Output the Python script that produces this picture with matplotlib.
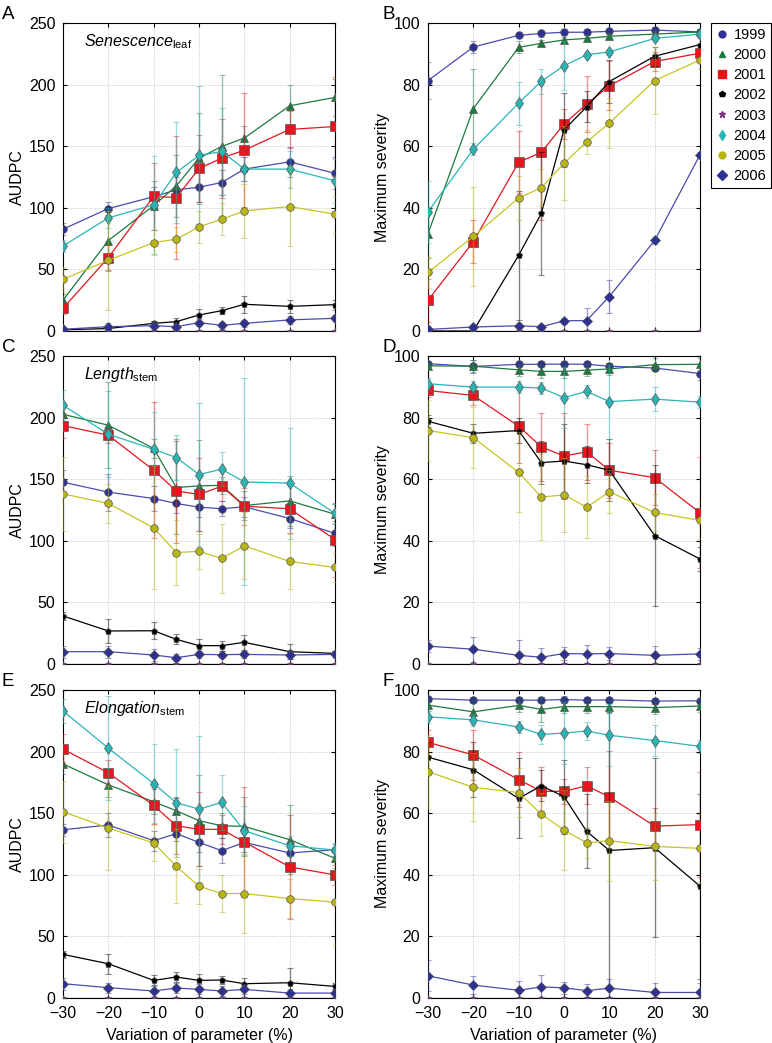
import numpy as np
import matplotlib
matplotlib.use("Agg")
import matplotlib.pyplot as plt
from matplotlib.lines import Line2D

plt.rcParams['font.family'] = ['Liberation Sans', 'DejaVu Sans']
plt.rcParams['mathtext.fontset'] = 'custom'
plt.rcParams['mathtext.rm'] = 'Liberation Sans'
plt.rcParams['mathtext.it'] = 'Liberation Sans:italic'

# variation of parameter (%)
variation = [-30, -20, -10, -5, 0, 5, 10, 20, 30]
years = ['1999', '2000', '2001', '2002', '2003', '2004', '2005', '2006']

# A: AUDPC, Senescence_leaf (rows = years)
audpc_leaf = [
    [82.6, 99.4, 109, 114.6, 116.7, 120.5, 131.4, 137.3, 128],
    [25, 73.4, 101.8, 117.8, 140.3, 149.8, 156.6, 182.8, 189.6],
    [18.4, 59.6, 109.2, 108.3, 131.9, 140.3, 146.8, 163.6, 166],
    [1, 2, 6.2, 7.6, 13, 16.5, 21.7, 20, 21.4],
    [0, 0, 0, 0, 0, 0, 0, 0, 0],
    [69, 91.8, 102.4, 128.7, 142.5, 145.7, 131.4, 131.4, 121.9],
    [42, 57.4, 71.8, 74.5, 84.5, 90.7, 97.5, 101, 94.8],
    [1.4, 3.5, 4.3, 3.5, 6.8, 4.6, 6.2, 9, 10.3],
]
audpc_leaf_err = [
    [5, 5, 8, 10, 12, 10, 10, 12, 13],
    [5, 25, 20, 25, 37, 58, 10, 17, 15],
    [5, 10, 27, 50, 27, 32, 46, 15, 40],
    [1, 1, 2, 3, 5, 3, 7, 5, 4],
    [0, 0, 0, 0, 0, 0, 0, 0, 0],
    [5, 8, 40, 41, 56, 35, 10, 15, 18],
    [10, 40, 10, 10, 13, 13, 22, 32, 15],
    [1, 3, 2, 2, 3, 3, 3, 3, 3],
]

# B: maximum severity, Senescence_leaf
sev_leaf = [
    [81.3, 92.2, 96, 96.6, 97, 97, 97.3, 97.7, 97.1],
    [31.6, 72.2, 92.1, 93.4, 94.5, 95, 95.7, 96.4, 97.1],
    [10, 29, 54.8, 58, 67.2, 73.7, 79.6, 87.5, 90.2],
    [0, 0, 24.6, 38.2, 65.3, 72.8, 81, 89.2, 93],
    [0, 0, 0, 0, 0, 0, 0, 0, 0],
    [38.7, 59, 74, 81.1, 86.1, 89.7, 90.6, 95, 96.4],
    [19, 30.7, 43.2, 46.5, 54.5, 61.4, 67.5, 81.3, 88],
    [0.5, 1.3, 1.7, 1.4, 3.3, 3.4, 11.2, 29.4, 57.2],
]
sev_leaf_err = [
    [6, 2, 1, 1, 1, 1, 1, 1, 1],
    [8, 13, 2, 1, 1, 1, 1, 1, 1],
    [7, 7, 10, 22, 5, 9, 8, 3, 2],
    [0, 0, 21, 20, 12, 5, 7, 3, 2],
    [0, 0, 0, 0, 0, 0, 0, 0, 0],
    [10, 2, 7, 4, 8, 1, 1, 1, 1],
    [5, 16, 7, 6, 12, 4, 8, 11, 3],
    [0.5, 1, 1, 1, 1, 4, 5.5, 1, 1],
]

# C: AUDPC, Length_stem
audpc_length = [
    [147.6, 139.5, 134.3, 130.3, 127.3, 126, 127.6, 118.1, 106],
    [202.7, 193.8, 175, 143.2, 144.6, 145, 128.6, 132.4, 121.6],
    [193.5, 185.7, 157.3, 140.5, 137.6, 144.3, 128.1, 126, 101],
    [39, 26.8, 27, 20, 14.9, 14.9, 17.6, 10, 8.6],
    [0, 0, 0, 0, 0, 0, 0, 0, 0],
    [210, 186.5, 174.3, 167.6, 153.8, 158.1, 147.8, 146.8, 122.2],
    [138.1, 130.3, 110.5, 90.5, 91.4, 85.7, 96, 83.2, 78.4],
    [10, 10, 7.3, 5.1, 7.8, 7.6, 7.8, 7.3, 7.8],
]
audpc_length_err = [
    [10, 15, 10, 8, 8, 6, 8, 8, 10],
    [8, 35, 8, 38, 37, 7, 12, 20, 8],
    [10, 6, 55, 42, 30, 12, 15, 20, 30],
    [3, 10, 7, 4, 5, 4, 6, 6, 2],
    [0, 0, 0, 0, 0, 0, 0, 0, 0],
    [12, 35, 30, 18, 58, 14, 84, 45, 8],
    [30, 16, 50, 26, 14, 28, 27, 22, 12],
    [5, 5, 5, 3, 3, 3, 3, 3, 3],
]

# D: maximum severity, Length_stem
sev_length = [
    [97.5, 96.6, 97.3, 97.3, 97.4, 97.3, 96.7, 96.1, 94.3],
    [96.8, 96.7, 95.5, 95, 95, 95.4, 95.8, 97.2, 97.3],
    [88.8, 87.2, 77.2, 70.5, 67.5, 68.9, 62.9, 60.5, 49.1],
    [78.8, 74.9, 75.8, 65.4, 65.9, 64.7, 62.9, 41.7, 34.1],
    [0, 0, 0, 0, 0, 0, 0, 0, 0],
    [91, 89.9, 89.9, 89.6, 86.5, 88.5, 85.2, 86, 85],
    [75.8, 73.5, 62.2, 54.2, 54.9, 50.9, 55.9, 49.2, 46.6],
    [5.8, 4.8, 2.8, 2.2, 3.4, 3.3, 3.4, 2.8, 3.3],
]
sev_length_err = [
    [1, 2, 1, 1, 1, 1, 1, 1, 2],
    [1, 2, 2, 2, 2, 2, 2, 2, 2],
    [2, 3, 12, 11, 14, 9, 9, 9, 18],
    [2, 3, 4, 7, 12, 6, 10, 23, 4],
    [0, 0, 0, 0, 0, 0, 0, 0, 0],
    [2, 2, 2, 2, 10, 2, 12, 4, 2],
    [10, 10, 13, 14, 12, 10, 7, 6, 6],
    [2, 4, 5, 3, 2, 3, 2, 3, 2],
]

# E: AUDPC, Elongation_stem
audpc_elong = [
    [136.6, 140.4, 127.7, 133.4, 126.3, 119.6, 126.3, 117.7, 120.4],
    [190, 173, 159.3, 152, 143.9, 139.8, 139.3, 128.5, 113.4],
    [202, 182.8, 156.3, 139.8, 136.9, 136.9, 126.6, 106.4, 99.9],
    [35.4, 27.8, 14.3, 17, 14.3, 14.6, 11.6, 12.4, 9.4],
    [0, 0, 0, 0, 0, 0, 0, 0, 0],
    [233, 202.8, 174.1, 158.5, 153.3, 158.7, 135.8, 123.6, 120.1],
    [151.2, 138, 125.8, 106.9, 90.7, 84.8, 84.8, 80.7, 77.8],
    [11.6, 8.4, 5.7, 8.1, 7, 5.7, 7, 4, 4],
]
audpc_elong_err = [
    [5, 10, 8, 6, 8, 10, 8, 10, 5],
    [8, 10, 10, 10, 37, 10, 24, 28, 8],
    [12, 10, 15, 23, 30, 12, 45, 42, 8],
    [3, 8, 4, 4, 5, 3, 5, 12, 3],
    [0, 0, 0, 0, 0, 0, 0, 0, 0],
    [10, 42, 32, 44, 59, 22, 20, 8, 6],
    [25, 34, 15, 30, 14, 15, 32, 16, 35],
    [5, 4, 4, 4, 4, 4, 4, 3, 3],
]

# F: maximum severity, Elongation_stem
sev_elong = [
    [97.2, 96.7, 96.7, 96.7, 96.9, 96.7, 96.8, 96.4, 96.5],
    [95.1, 92.9, 95, 93.7, 94.6, 94.6, 94.6, 94.3, 94.8],
    [83, 78.9, 70.9, 67.1, 67.1, 68.9, 65.3, 55.8, 56.3],
    [78.2, 74.1, 64.8, 68.9, 65.4, 54.1, 47.9, 48.8, 36.3],
    [0, 0, 0, 0, 0, 0, 0, 0, 0],
    [91.3, 90.3, 88, 85.6, 86, 86.7, 85.3, 83.6, 81.7],
    [73.5, 68.4, 66.7, 59.7, 54.5, 50.4, 51.1, 49.2, 48.6],
    [7.2, 4.2, 2.5, 3.6, 3.3, 2.4, 3.2, 1.8, 1.8],
]
sev_elong_err = [
    [1, 1, 1, 1, 1, 1, 1, 1, 1],
    [2, 4, 2, 4, 2, 2, 2, 2, 2],
    [4, 8, 9, 8, 4, 6, 15, 6, 17],
    [5, 9, 13, 5, 12, 12, 45, 29, 30],
    [0, 0, 0, 0, 0, 0, 0, 0, 0],
    [2, 2, 2, 3, 10, 3, 10, 5, 2],
    [12, 11, 8, 7, 13, 5, 13, 11, 11],
    [5, 3, 3, 4, 2, 2, 3, 3, 3],
]

colors = ['#2e3192', '#1b7a3e', '#e4161e', '#000000', '#7b2d7e', '#2ab5b5', '#b8b515', '#2e3192']
linecols = ['#4a4ab0', '#1b7a3e', '#e4161e', '#000000', '#7b2d7e', '#2ab5b5', '#c8c520', '#4a4ab0']
markers = ['o', '^', 's', 'p', '*', 'd', 'o', 'D']
msizes = [5.5, 5.5, 6.5, 4.5, 5, 6, 5.5, 5.5]

fig = plt.figure(figsize=(7.72, 10.43), dpi=100)

W = 272 / 772
H = 308 / 1043
lefts = [63 / 772, 428 / 772]
bottoms = [1 - 331 / 1043, 1 - 664 / 1043, 1 - 998 / 1043]

panels = [
    (audpc_leaf, audpc_leaf_err, 'A', 250, r'$\it{Senescence}_{\rm leaf}$'),
    (sev_leaf, sev_leaf_err, 'B', 100, None),
    (audpc_length, audpc_length_err, 'C', 250, r'$\it{Length}_{\rm stem}$'),
    (sev_length, sev_length_err, 'D', 100, None),
    (audpc_elong, audpc_elong_err, 'E', 250, r'$\it{Elongation}_{\rm stem}$'),
    (sev_elong, sev_elong_err, 'F', 100, None),
]

for i, (vals, errs, letter, ymax, title) in enumerate(panels):
    row, col = i // 2, i % 2
    ax = fig.add_axes([lefts[col], bottoms[row], W, H])
    for k in range(len(years)):
        ax.errorbar(variation, vals[k], yerr=errs[k], fmt='none', ecolor=colors[k],
                    elinewidth=1.0, capsize=2, capthick=0.8, alpha=0.45, zorder=2 + k)
        ax.plot(variation, vals[k], color=linecols[k], lw=0.9, marker=markers[k],
                ms=msizes[k], mfc=colors[k], mec='#555555', mew=0.5, zorder=3 + k)
    ax.set_xlim(-30, 30)
    ax.set_ylim(0, ymax)
    ax.set_xticks([-30, -20, -10, 0, 10, 20, 30])
    if ymax == 250:
        ax.set_yticks(range(0, 251, 50))
        ax.set_ylabel('AUDPC', fontsize=11.5, labelpad=3)
    else:
        ax.set_yticks(range(0, 101, 20))
        ax.set_ylabel('Maximum severity', fontsize=11.5, labelpad=3)
    ax.grid(True, ls=':', color='#c4c4c4', lw=0.7)
    ax.tick_params(direction='in', labelsize=11.5, length=3, top=True, right=True)
    ax.tick_params(axis='x', pad=6)
    ax.tick_params(axis='y', pad=5.5)
    if row < 2:
        ax.set_xticklabels([])
    else:
        ax.set_xlabel('Variation of parameter (%)', fontsize=11.5, labelpad=5)
    for s in ax.spines.values():
        s.set_linewidth(0.8)
    if title:
        ax.text(0.077, 0.94, title, transform=ax.transAxes, fontsize=11.5,
                va='center', ha='left')
    fig.text(0.002 + col * 0.4935, bottoms[row] + H + 0.008, letter, fontsize=13.5,
             ha='left', va='center')
    if letter == 'B':
        handles = [Line2D([], [], ls='none', marker=markers[k], color=colors[k],
                          mfc=colors[k], mec=colors[k], ms=msizes[k] * 0.9)
                   for k in range(len(years))]
        leg = ax.legend(handles, years, loc='upper left', bbox_to_anchor=(1.04, 1.0),
                        borderaxespad=0, fontsize=10.5, fancybox=False, edgecolor='black',
                        handlelength=0.8, handletextpad=0.4, labelspacing=0.42,
                        borderpad=0.35, framealpha=1)
        leg.get_frame().set_linewidth(0.8)

fig.savefig('out.png', dpi=100)
